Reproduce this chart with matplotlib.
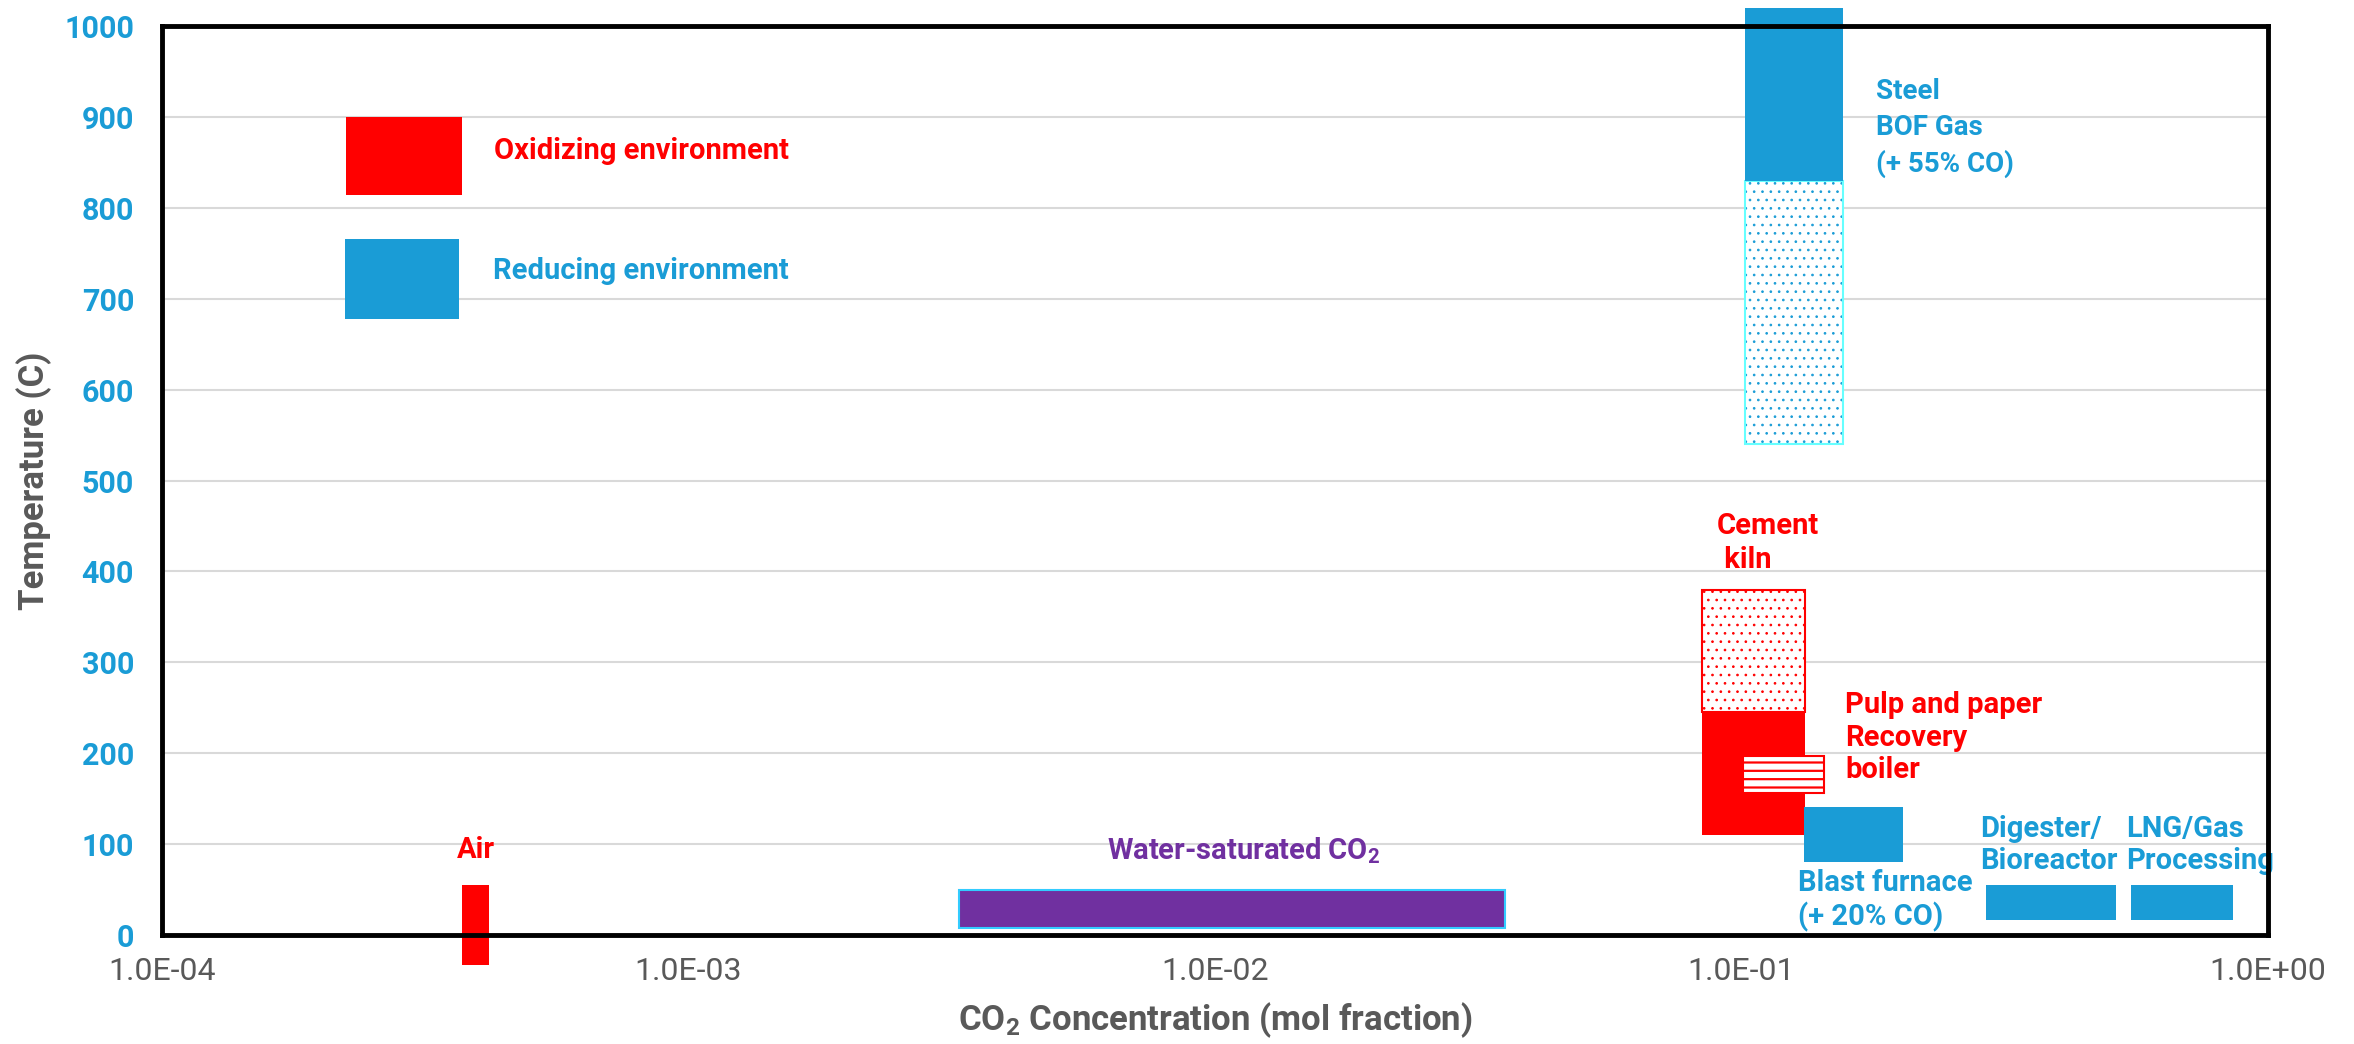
import numpy as np
import matplotlib
matplotlib.use('Agg')
import matplotlib.pyplot as plt
from matplotlib.patches import Rectangle
from matplotlib.ticker import FixedLocator, FuncFormatter, NullLocator

plt.rcParams['font.family'] = ['Roboto', 'DejaVu Sans']
plt.rcParams['hatch.linewidth'] = 1.6

# CO2 range (mol fraction) and temperature range (C) of each source
air_x, air_t = [3.71e-4, 4.18e-4], [-33, 55]
water_x, water_t = [3.27e-3, 0.0356], [8, 50]
cement_x, cement_t, cement_hot_t = [0.084, 0.132], [110, 245], [245, 380]
pulp_x, pulp_t = [0.1007, 0.1435], [156, 197]
blast_x, blast_t = [0.1315, 0.203], [80, 141]
bof_x, bof_t, bof_cool_t = [0.1016, 0.156], [830, 1020], [540, 830]
digester_x, digester_t = [0.291, 0.515], [17, 55]
lng_x, lng_t = [0.548, 0.859], [17, 55]

# key swatches
oxid_x, oxid_t = [2.24e-4, 3.71e-4], [814, 900]
reduc_x, reduc_t = [2.23e-4, 3.66e-4], [678, 766]

xticks = [1e-4, 1e-3, 1e-2, 1e-1, 1e0]
yticks = list(range(0, 1001, 100))

RED = '#FF0000'
BLUE = '#1A9CD6'
PURPLE = '#7030A0'
GRAY = '#595959'


def box(ax, xr, tr, **kw):
    kw.setdefault('clip_on', False)
    p = Rectangle((xr[0], tr[0]), xr[1] - xr[0], tr[1] - tr[0], **kw)
    ax.add_patch(p)
    return p


fig = plt.figure(figsize=(23.54, 10.44), dpi=100)
ax = fig.add_axes([0.0688, 0.1044, 0.8947, 0.8707])
ax.set_xscale('log')
ax.set_xlim(1e-4, 1)
ax.set_ylim(0, 1000)
ax.set_axisbelow(True)
ax.grid(axis='y', color='#D9D9D9', lw=1.5)

# key
box(ax, oxid_x, oxid_t, facecolor=RED, lw=0)
box(ax, reduc_x, reduc_t, facecolor=BLUE, lw=0)
ax.text(4.27e-4, 862, 'Oxidizing environment', color=RED, fontsize=21,
        fontweight='bold', va='center')
ax.text(4.26e-4, 730, 'Reducing environment', color=BLUE, fontsize=21,
        fontweight='bold', va='center')

# air
box(ax, air_x, air_t, facecolor=RED, lw=0)
ax.text(3.94e-4, 93, 'Air', color=RED, fontsize=21, fontweight='bold',
        ha='center', va='center')

# water saturated CO2
box(ax, water_x, water_t, facecolor=PURPLE, edgecolor='#33CCFF', lw=1.5)
ax.text(0.01135, 93, r'Water-saturated CO$\mathregular{_2}$', color=PURPLE,
        fontsize=21, fontweight='bold', ha='center', va='center')

# dotted parts get a thin hatch
with plt.rc_context({'hatch.linewidth': 0.7}):
    cem_dots = box(ax, cement_x, cement_hot_t, facecolor='white', edgecolor=RED,
                   hatch='..', lw=0)
    bof_dots = box(ax, bof_x, bof_cool_t, facecolor='white', edgecolor=BLUE,
                   hatch='..', lw=0)
for p in (cem_dots, bof_dots):
    if hasattr(p, 'set_hatch_linewidth'):
        p.set_hatch_linewidth(0.7)

# cement kiln
box(ax, cement_x, cement_hot_t, fill=False, edgecolor=RED, lw=1.5)
box(ax, cement_x, cement_t, facecolor=RED, lw=0)
ax.text(0.0898, 431, 'Cement\n kiln', color=RED, fontsize=21,
        fontweight='bold', va='center', linespacing=1.25)

# pulp and paper
box(ax, pulp_x, pulp_t, facecolor='white', edgecolor=RED, hatch='--', lw=1.5)
ax.text(0.1572, 217, 'Pulp and paper\nRecovery\nboiler', color=RED,
        fontsize=21, fontweight='bold', va='center', linespacing=1.2)

# blast furnace
box(ax, blast_x, blast_t, facecolor=BLUE, lw=0)
ax.text(0.128, 38, 'Blast furnace\n(+ 20% CO)', color=BLUE, fontsize=21,
        fontweight='bold', va='center', linespacing=1.2)

# steel BOF gas
box(ax, bof_x, bof_cool_t, fill=False, edgecolor='#66FFFF', lw=1.5)
box(ax, bof_x, bof_t, facecolor=BLUE, lw=0)
ax.text(0.180, 888, 'Steel\nBOF Gas\n(+ 55% CO)', color=BLUE, fontsize=20,
        fontweight='bold', va='center', linespacing=1.4)

# digester, LNG
box(ax, digester_x, digester_t, facecolor=BLUE, lw=0)
box(ax, lng_x, lng_t, facecolor=BLUE, lw=0)
ax.text(0.2837, 99, 'Digester/\nBioreactor', color=BLUE, fontsize=21,
        fontweight='bold', va='center', linespacing=1.2)
ax.text(0.537, 99, 'LNG/Gas\nProcessing', color=BLUE, fontsize=21,
        fontweight='bold', va='center', linespacing=1.2)

# axes
ax.xaxis.set_major_locator(FixedLocator(xticks))
ax.xaxis.set_minor_locator(NullLocator())
ax.xaxis.set_major_formatter(FuncFormatter(lambda v, p: f'{v:.1E}'))
ax.set_yticks(yticks)
ax.tick_params(axis='x', length=0, pad=16, labelsize=23, labelcolor=GRAY)
ax.tick_params(axis='y', length=0, pad=20, labelsize=22, labelcolor=BLUE)
for lab in ax.get_yticklabels():
    lab.set_fontweight('bold')
for s in ax.spines.values():
    s.set_linewidth(3.5)
    s.set_color('black')
    s.set_zorder(5)

ax.set_xlabel(r'CO$\mathregular{_2}$ Concentration (mol fraction)', fontsize=25,
              fontweight='bold', color=GRAY)
ax.set_ylabel('Temperature (C)', fontsize=25, fontweight='bold', color=GRAY)
ax.xaxis.set_label_coords(0.5, -0.072)
ax.yaxis.set_label_coords(-0.052, 0.5)

fig.savefig('out.png', dpi=100)
